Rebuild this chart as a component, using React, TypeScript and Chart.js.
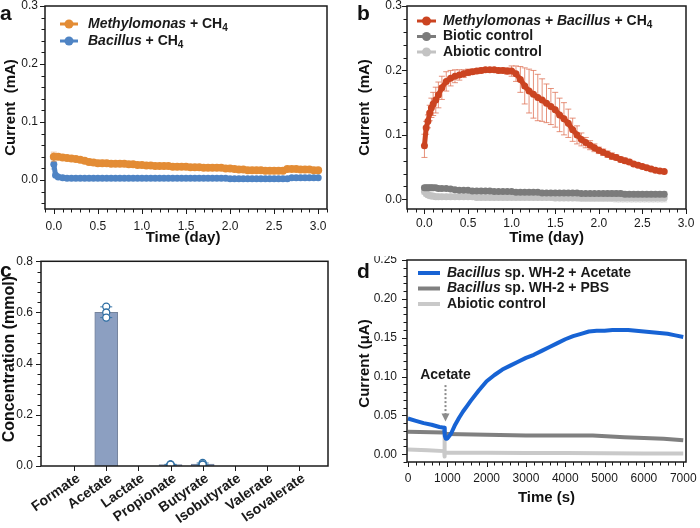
import React, { useEffect, useRef } from 'react';
import { Chart, registerables } from 'chart.js';

Chart.register(...registerables);

const FONT = '"Liberation Sans", Arial, Helvetica, sans-serif';
Chart.defaults.font.family = FONT;
Chart.defaults.color = '#1a1a1a';

// ---------------- a: single cultures fed with CH4 (mA vs day) ----------------
const aTime = [
  0.00, 0.05, 0.10, 0.15, 0.20, 0.25, 0.30, 0.35, 0.40, 0.45,
  0.50, 0.55, 0.60, 0.65, 0.70, 0.75, 0.80, 0.85, 0.90, 0.95,
  1.00, 1.05, 1.10, 1.15, 1.20, 1.25, 1.30, 1.35, 1.40, 1.45,
  1.50, 1.55, 1.60, 1.65, 1.70, 1.75, 1.80, 1.85, 1.90, 1.95,
  2.00, 2.05, 2.10, 2.15, 2.20, 2.25, 2.30, 2.35, 2.40, 2.45,
  2.50, 2.55, 2.60, 2.65, 2.70, 2.75, 2.80, 2.85, 2.90, 2.95,
  3.00,
];
const aMethylomonas = [
  0.040, 0.040, 0.039, 0.038, 0.037, 0.036, 0.035, 0.033, 0.031, 0.030,
  0.029, 0.029, 0.029, 0.028, 0.028, 0.028, 0.028, 0.027, 0.027, 0.026,
  0.026, 0.025, 0.025, 0.024, 0.024, 0.024, 0.024, 0.023, 0.023, 0.023,
  0.023, 0.022, 0.022, 0.022, 0.021, 0.021, 0.021, 0.021, 0.021, 0.020,
  0.020, 0.019, 0.018, 0.018, 0.017, 0.017, 0.017, 0.017, 0.016, 0.016,
  0.016, 0.016, 0.016, 0.019, 0.019, 0.019, 0.018, 0.018, 0.018, 0.017,
  0.017,
];
const aMethylomonasErr = [
  0.008, 0.004, 0.003, 0.003, 0.003, 0.003, 0.003, 0.004, 0.005, 0.005,
  0.005, 0.005, 0.004, 0.004, 0.004, 0.004, 0.004, 0.004, 0.003, 0.003,
  0.003, 0.003, 0.003, 0.003, 0.003, 0.003, 0.003, 0.003, 0.003, 0.003,
  0.003, 0.003, 0.003, 0.003, 0.002, 0.002, 0.002, 0.002, 0.002, 0.002,
  0.003, 0.004, 0.004, 0.004, 0.004, 0.004, 0.004, 0.004, 0.004, 0.004,
  0.004, 0.004, 0.004, 0.002, 0.002, 0.002, 0.002, 0.002, 0.002, 0.002,
  0.002,
];
const aBacillusTime = [
  0.00, 0.02, 0.05, 0.10, 0.15, 0.20, 0.25, 0.30, 0.35, 0.40,
  0.45, 0.50, 0.55, 0.60, 0.65, 0.70, 0.75, 0.80, 0.85, 0.90,
  0.95, 1.00, 1.05, 1.10, 1.15, 1.20, 1.25, 1.30, 1.35, 1.40,
  1.45, 1.50, 1.55, 1.60, 1.65, 1.70, 1.75, 1.80, 1.85, 1.90,
  1.95, 2.00, 2.05, 2.10, 2.15, 2.20, 2.25, 2.30, 2.35, 2.40,
  2.45, 2.50, 2.55, 2.60, 2.65, 2.70, 2.75, 2.80, 2.85, 2.90,
  2.95, 3.00,
];
const aBacillus = [
  0.027, 0.008, 0.005, 0.004, 0.003, 0.003, 0.003, 0.003, 0.003, 0.003,
  0.003, 0.003, 0.003, 0.003, 0.003, 0.003, 0.003, 0.003, 0.003, 0.003,
  0.003, 0.003, 0.003, 0.003, 0.003, 0.003, 0.003, 0.003, 0.003, 0.003,
  0.003, 0.003, 0.003, 0.003, 0.003, 0.003, 0.003, 0.003, 0.003, 0.003,
  0.003, 0.002, 0.002, 0.002, 0.002, 0.002, 0.002, 0.002, 0.002, 0.002,
  0.002, 0.002, 0.002, 0.002, 0.002, 0.004, 0.004, 0.004, 0.004, 0.004,
  0.004, 0.004,
];
const aBacillusErr = [
  0.008, 0.002, 0.0015, 0.0015, 0.0015, 0.0015, 0.0015, 0.0015, 0.0015, 0.0015,
  0.0015, 0.0015, 0.0015, 0.0015, 0.0015, 0.0015, 0.0015, 0.0015, 0.0015, 0.0015,
  0.0015, 0.0015, 0.0015, 0.0015, 0.0015, 0.0015, 0.0015, 0.0015, 0.0015, 0.0015,
  0.0015, 0.0015, 0.0015, 0.0015, 0.0015, 0.0015, 0.0015, 0.0015, 0.0015, 0.0015,
  0.0015, 0.0015, 0.0015, 0.0015, 0.0015, 0.0015, 0.0015, 0.0015, 0.0015, 0.0015,
  0.0015, 0.0015, 0.0015, 0.0015, 0.0015, 0.0015, 0.0015, 0.0015, 0.0015, 0.0015,
  0.0015, 0.0015,
];
const aXTicks = [0, 0.5, 1.0, 1.5, 2.0, 2.5, 3.0];
const aYTicks = [0, 0.1, 0.2, 0.3];

// ---------------- b: co-culture vs controls (mA vs day) ----------------
const bTime = [
  0.00, 0.02, 0.04, 0.06, 0.08, 0.10, 0.13, 0.16, 0.20, 0.25,
  0.30, 0.35, 0.40, 0.45, 0.50, 0.55, 0.60, 0.65, 0.70, 0.75,
  0.80, 0.85, 0.90, 0.95, 1.00, 1.05, 1.10, 1.15, 1.20, 1.25,
  1.30, 1.35, 1.40, 1.45, 1.50, 1.55, 1.60, 1.65, 1.70, 1.75,
  1.80, 1.85, 1.90, 1.95, 2.00, 2.05, 2.10, 2.15, 2.20, 2.25,
  2.30, 2.35, 2.40, 2.45, 2.50, 2.55, 2.60, 2.65, 2.70, 2.75,
];
const bCoculture = [
  0.083, 0.111, 0.121, 0.134, 0.142, 0.148, 0.154, 0.162, 0.173, 0.183,
  0.188, 0.191, 0.193, 0.195, 0.197, 0.198, 0.199, 0.200, 0.201, 0.201,
  0.201, 0.200, 0.200, 0.199, 0.199, 0.195, 0.186, 0.176, 0.168, 0.163,
  0.158, 0.154, 0.149, 0.144, 0.139, 0.131, 0.125, 0.118, 0.108, 0.100,
  0.093, 0.088, 0.084, 0.080, 0.076, 0.073, 0.070, 0.067, 0.065, 0.062,
  0.060, 0.058, 0.055, 0.053, 0.051, 0.049, 0.047, 0.045, 0.044, 0.043,
];
const bCocultureErr = [
  0.018, 0.010, 0.010, 0.012, 0.015, 0.018, 0.020, 0.020, 0.018, 0.015,
  0.012, 0.010, 0.008, 0.006, 0.005, 0.004, 0.004, 0.004, 0.003, 0.003,
  0.003, 0.004, 0.004, 0.005, 0.008, 0.012, 0.020, 0.028, 0.034, 0.037,
  0.036, 0.033, 0.030, 0.028, 0.027, 0.026, 0.025, 0.022, 0.018, 0.014,
  0.010, 0.008, 0.007, 0.006, 0.005, 0.005, 0.005, 0.005, 0.004, 0.004,
  0.004, 0.004, 0.003, 0.003, 0.003, 0.003, 0.003, 0.002, 0.002, 0.002,
];
const bBiotic = [
  0.018, 0.018, 0.018, 0.018, 0.018, 0.018, 0.018, 0.017, 0.017, 0.017,
  0.016, 0.015, 0.014, 0.014, 0.014, 0.013, 0.013, 0.013, 0.013, 0.013,
  0.012, 0.012, 0.012, 0.012, 0.012, 0.011, 0.011, 0.011, 0.011, 0.011,
  0.011, 0.010, 0.010, 0.010, 0.010, 0.010, 0.010, 0.010, 0.010, 0.010,
  0.009, 0.009, 0.009, 0.009, 0.009, 0.009, 0.009, 0.009, 0.009, 0.009,
  0.008, 0.008, 0.008, 0.008, 0.008, 0.008, 0.008, 0.008, 0.008, 0.008,
];
const bBioticErr = [
  0.003, 0.003, 0.003, 0.003, 0.003, 0.003, 0.003, 0.003, 0.003, 0.003,
  0.003, 0.003, 0.003, 0.003, 0.003, 0.003, 0.003, 0.003, 0.003, 0.003,
  0.003, 0.003, 0.003, 0.003, 0.003, 0.003, 0.003, 0.003, 0.003, 0.003,
  0.003, 0.003, 0.003, 0.003, 0.003, 0.003, 0.003, 0.003, 0.003, 0.003,
  0.003, 0.003, 0.003, 0.003, 0.003, 0.003, 0.004, 0.004, 0.004, 0.004,
  0.004, 0.004, 0.004, 0.004, 0.004, 0.004, 0.004, 0.004, 0.004, 0.004,
];
const bAbiotic = [
  0.012, 0.009, 0.007, 0.006, 0.005, 0.005, 0.004, 0.004, 0.004, 0.004,
  0.004, 0.004, 0.004, 0.004, 0.004, 0.004, 0.003, 0.003, 0.003, 0.003,
  0.003, 0.003, 0.003, 0.003, 0.003, 0.003, 0.003, 0.003, 0.003, 0.003,
  0.003, 0.003, 0.003, 0.003, 0.002, 0.002, 0.002, 0.002, 0.002, 0.002,
  0.002, 0.002, 0.002, 0.002, 0.002, 0.002, 0.002, 0.002, 0.002, 0.002,
  0.002, 0.002, 0.002, 0.002, 0.002, 0.002, 0.002, 0.002, 0.002, 0.002,
];
const bAbioticErr = [
  0.004, 0.004, 0.004, 0.004, 0.004, 0.004, 0.004, 0.004, 0.004, 0.004,
  0.004, 0.004, 0.004, 0.004, 0.004, 0.004, 0.004, 0.004, 0.004, 0.004,
  0.004, 0.004, 0.004, 0.004, 0.004, 0.004, 0.004, 0.004, 0.004, 0.004,
  0.004, 0.004, 0.004, 0.004, 0.004, 0.004, 0.004, 0.004, 0.004, 0.004,
  0.005, 0.005, 0.005, 0.005, 0.005, 0.005, 0.005, 0.005, 0.006, 0.006,
  0.006, 0.006, 0.006, 0.006, 0.006, 0.006, 0.006, 0.006, 0.006, 0.006,
];
const bXTicks = [0, 0.5, 1.0, 1.5, 2.0, 2.5, 3.0];
const bYTicks = [0, 0.1, 0.2, 0.3];

// ---------------- c: organic acids produced (mmol) ----------------
const cCategories = ['Formate', 'Acetate', 'Lactate', 'Propionate', 'Butyrate', 'Isobutyrate', 'Valerate', 'Isovalerate'];
const cMeans = [0, 0.601, 0, 0.0055, 0.0077, 0, 0, 0];
const cErrs = [0, 0.021, 0, 0.001, 0.004, 0, 0, 0];
const cReplicateIndex = [1, 1, 1, 3, 3, 3, 4, 4, 4];
const cReplicateValue = [0.623, 0.600, 0.580, 0.006, 0.005, 0.005, 0.012, 0.006, 0.005];
const cYTicks = [0, 0.2, 0.4, 0.6, 0.8];

// ---------------- d: Bacillus sp. WH-2 chronoamperometry (μA vs s) ----------------
const dAcetateTime = [
  0, 200, 400, 600, 800, 920, 935, 960, 1000, 1100,
  1200, 1300, 1400, 1500, 1600, 1800, 2000, 2200, 2400, 2600,
  2800, 3000, 3200, 3400, 3600, 3800, 4000, 4200, 4400, 4600,
  4800, 5000, 5200, 5400, 5600, 5800, 6000, 6200, 6400, 6600,
  6800, 7000,
];
const dAcetate = [
  0.046, 0.043, 0.040, 0.038, 0.035, 0.034, 0.024, 0.020, 0.020, 0.027,
  0.038, 0.047, 0.055, 0.062, 0.069, 0.082, 0.094, 0.102, 0.109, 0.114,
  0.119, 0.124, 0.128, 0.133, 0.138, 0.143, 0.148, 0.152, 0.155, 0.158,
  0.159, 0.159, 0.160, 0.160, 0.160, 0.159, 0.158, 0.157, 0.156, 0.155,
  0.153, 0.151,
];
const dPbsTime = [0, 900, 940, 1000, 2000, 3000, 4000, 4700, 5500, 6000, 6500, 7000];
const dPbs = [0.029, 0.028, 0.027, 0.026, 0.025, 0.024, 0.024, 0.024, 0.022, 0.021, 0.020, 0.018];
const dAbioticTime = [0, 500, 920, 925, 930, 940, 1000, 2000, 3000, 4000, 5000, 6000, 7000];
const dAbiotic = [0.006, 0.005, 0.004, 0.024, -0.003, 0.002, 0.002, 0.002, 0.0015, 0.0015, 0.0012, 0.001, 0.001];
const dXTicks = [0, 1000, 2000, 3000, 4000, 5000, 6000, 7000];
const dYTicks = [0, 0.05, 0.1, 0.15, 0.2, 0.25];
const dAcetateAddedAt = 930;

// ---------------- colours ----------------
const ORANGE = '#e38c35';
const A_BLUE = '#4f84c4';
const RED = '#cb4421';
const GRAY = '#7b7b7b';
const LGRAY = '#c3c3c3';
const D_BLUE = '#1763d4';
const D_GRAY = '#808080';
const D_LGRAY = '#c9c9c9';
const BAR = '#8c9fc1';
const INK = '#1a1a1a';

const pts = (xs: number[], ys: number[]) => xs.map((x, i) => ({ x, y: ys[i] }));

// ---------------- plugins ----------------
function drawErrors(chart: any, index: number, after: boolean) {
  const ds: any = chart.data.datasets[index];
  if (!ds.errors || !!ds.errorsAfter !== after) return;
  const meta = chart.getDatasetMeta(index);
  const yScale = chart.scales[meta.yAxisID];
  const ctx = chart.ctx;
  const cap = ds.errorCap ?? 3;
  ctx.save();
  ctx.strokeStyle = ds.errorColor;
  ctx.lineWidth = ds.errorWidth ?? 1;
  meta.data.forEach((el: any, i: number) => {
    const e = ds.errors[i];
    if (!e) return;
    const v = ds.data[i].y;
    const x = el.x;
    const y1 = yScale.getPixelForValue(v + e);
    const y2 = yScale.getPixelForValue(v - e);
    ctx.beginPath();
    ctx.moveTo(x, y1);
    ctx.lineTo(x, y2);
    ctx.moveTo(x - cap, y1);
    ctx.lineTo(x + cap, y1);
    ctx.moveTo(x - cap, y2);
    ctx.lineTo(x + cap, y2);
    ctx.stroke();
  });
  ctx.restore();
}

const errorBars = {
  id: 'errorBars',
  beforeDatasetDraw(chart: any, args: any) { drawErrors(chart, args.index, false); },
  afterDatasetDraw(chart: any, args: any) { drawErrors(chart, args.index, true); },
};

// Axis box, outward tick marks, tick labels and axis titles for one panel.
// Label rows are placed relative to the plot box.
function axisDecor(spec: any) {
  return {
    id: 'axisDecor',
    afterDraw(chart: any) {
      const { ctx, chartArea: ca, scales } = chart;
      const xs = scales.x;
      const ys = scales.y;
      const midX = (ca.left + ca.right) / 2;
      const midY = (ca.top + ca.bottom) / 2;
      ctx.save();
      ctx.strokeStyle = INK;
      ctx.lineWidth = 1.5;
      ctx.strokeRect(ca.left, ca.top, ca.right - ca.left, ca.bottom - ca.top);
      ctx.lineWidth = 1;
      const run = (scale: any, m: any, horizontal: boolean) => {
        const lo = m.from ?? scale.min;
        const hi = m.to ?? scale.max;
        const k0 = Math.ceil(lo / m.minor - 1e-6);
        const k1 = Math.floor(hi / m.minor + 1e-6);
        for (let k = k0; k <= k1; k++) {
          const v = k * m.minor;
          const r = v / m.major;
          const isMajor = Math.abs(r - Math.round(r)) < 1e-6;
          const len = isMajor ? 5 : 3.5;
          const p = Math.round(scale.getPixelForValue(v)) + 0.5;
          ctx.beginPath();
          if (horizontal) {
            ctx.moveTo(p, ca.bottom);
            ctx.lineTo(p, ca.bottom + len);
          } else {
            ctx.moveTo(ca.left, p);
            ctx.lineTo(ca.left - len, p);
          }
          ctx.stroke();
        }
      };
      run(xs, spec.xMarks, true);
      run(ys, spec.yMarks, false);

      ctx.fillStyle = INK;
      spec.xTicks.forEach((v: number, i: number) => {
        const px = xs.getPixelForValue(v);
        if (spec.xRotate) {
          ctx.save();
          ctx.font = spec.xFont;
          ctx.translate(px + spec.xAnchorDx, ca.bottom + spec.xLabelGap);
          ctx.rotate((-spec.xRotate * Math.PI) / 180);
          ctx.textAlign = 'right';
          ctx.textBaseline = 'middle';
          ctx.fillText(spec.xLabels[i], 0, 0);
          ctx.restore();
        } else {
          ctx.font = `12px ${FONT}`;
          ctx.textAlign = 'center';
          ctx.textBaseline = 'middle';
          ctx.fillText(spec.xLabels[i], px, ca.bottom + spec.xLabelGap);
        }
      });
      ctx.font = `12px ${FONT}`;
      ctx.textAlign = 'right';
      ctx.textBaseline = 'middle';
      spec.yTicks.forEach((v: number, i: number) => {
        ctx.fillText(spec.yLabels[i], ca.left - spec.yLabelGap, ys.getPixelForValue(v));
      });
      ctx.fillStyle = '#111';
      if (spec.xTitle) {
        ctx.font = `bold 15px ${FONT}`;
        ctx.textAlign = 'center';
        ctx.textBaseline = 'middle';
        ctx.fillText(spec.xTitle, midX + (spec.xTitleDx || 0), ca.bottom + spec.xTitleGap);
      }
      ctx.save();
      ctx.font = `bold ${spec.yTitleSize || 15}px ${FONT}`;
      ctx.translate(ca.left - spec.yTitleGap, midY + (spec.yTitleDy || 0));
      ctx.rotate(-Math.PI / 2);
      ctx.textAlign = 'center';
      ctx.textBaseline = 'middle';
      ctx.fillText(spec.yTitle, 0, 0);
      ctx.restore();
      ctx.restore();
    },
  };
}

// legend with mixed italic/upright runs and subscripts
function richLegend(spec: any) {
  return {
    id: 'richLegend',
    afterDraw(chart: any) {
      const ctx = chart.ctx;
      ctx.save();
      spec.items.forEach((it: any, i: number) => {
        const y = spec.y + i * spec.dy;
        ctx.strokeStyle = it.color;
        ctx.lineWidth = it.lineWidth;
        ctx.beginPath();
        ctx.moveTo(spec.x, y);
        ctx.lineTo(spec.x + spec.len, y);
        ctx.stroke();
        if (it.marker) {
          ctx.fillStyle = it.color;
          ctx.beginPath();
          ctx.arc(spec.x + spec.len / 2, y, 4.5, 0, Math.PI * 2);
          ctx.fill();
        }
        let tx = spec.x + spec.len + spec.gap;
        ctx.fillStyle = INK;
        ctx.textBaseline = 'middle';
        ctx.textAlign = 'left';
        it.parts.forEach((p: any) => {
          const size = p.sub ? 10 : 14;
          ctx.font = `${p.italic ? 'italic ' : ''}bold ${size}px ${FONT}`;
          ctx.fillText(p.t, tx, y + (p.sub ? 4 : 0));
          tx += ctx.measureText(p.t).width;
        });
      });
      ctx.restore();
    },
  };
}

function panelTag(text: string, x: number, y: number) {
  return {
    id: 'panelTag',
    afterDraw(chart: any) {
      const ctx = chart.ctx;
      ctx.save();
      ctx.font = `bold 21px ${FONT}`;
      ctx.fillStyle = '#111';
      ctx.textBaseline = 'alphabetic';
      ctx.textAlign = 'left';
      ctx.fillText(text, x, y);
      ctx.restore();
    },
  };
}

function noteArrow(o: any) {
  return {
    id: 'noteArrow',
    afterDatasetsDraw(chart: any) {
      const { ctx, scales: { x, y } } = chart;
      const px = Math.round(x.getPixelForValue(o.at)) + 0.5;
      ctx.save();
      ctx.font = `bold 14px ${FONT}`;
      ctx.fillStyle = INK;
      ctx.textAlign = 'center';
      ctx.textBaseline = 'middle';
      ctx.fillText(o.text, px, y.getPixelForValue(o.textY));
      const y1 = y.getPixelForValue(o.from);
      const y2 = y.getPixelForValue(o.to);
      ctx.strokeStyle = '#8c8c8c';
      ctx.lineWidth = 2;
      ctx.setLineDash([2, 2]);
      ctx.beginPath();
      ctx.moveTo(px, y1);
      ctx.lineTo(px, y2 - 7);
      ctx.stroke();
      ctx.setLineDash([]);
      ctx.fillStyle = '#8c8c8c';
      ctx.beginPath();
      ctx.moveTo(px - 4, y2 - 8);
      ctx.lineTo(px + 4, y2 - 8);
      ctx.lineTo(px, y2);
      ctx.closePath();
      ctx.fill();
      ctx.restore();
    },
  };
}

// scales only map values to pixels; all axis drawing is done by axisDecor
const hiddenAxis = (min: number, max: number) => ({ type: 'linear', min, max, display: false, offset: false });

const common = {
  animation: false,
  responsive: false,
  maintainAspectRatio: false,
  events: [],
};

const noChrome = { legend: { display: false }, tooltip: { enabled: false } };

function lineSet(label: string, xs: number[], ys: number[], errs: number[], color: string, errColor: string, radius: number, width: number) {
  return {
    label,
    data: pts(xs, ys),
    errors: errs,
    errorColor: errColor,
    errorCap: 3,
    borderColor: color,
    backgroundColor: color,
    borderWidth: width,
    pointRadius: radius,
    pointBorderWidth: 0,
    pointBackgroundColor: color,
    showLine: true,
    tension: 0,
    borderJoinStyle: 'round',
    borderCapStyle: 'round',
  };
}

// ---------------- chart configs ----------------
const configA = () => ({
  type: 'line',
  data: {
    datasets: [
      lineSet('Methylomonas + CH4', aTime, aMethylomonas, aMethylomonasErr, ORANGE, 'rgba(229,150,80,0.55)', 4, 6),
      lineSet('Bacillus + CH4', aBacillusTime, aBacillus, aBacillusErr, A_BLUE, 'rgba(79,132,196,0.6)', 3.5, 5),
    ],
  },
  options: {
    ...common,
    layout: { padding: { left: 45, top: 6, right: 23, bottom: 47 } },
    plugins: noChrome,
    scales: { x: hiddenAxis(-0.1, 3.1), y: hiddenAxis(-0.05, 0.3) },
  },
  plugins: [
    errorBars,
    axisDecor({
      xMarks: { minor: 0.1, major: 0.5 }, yMarks: { minor: 0.02, major: 0.1 },
      xTicks: aXTicks, xLabels: aXTicks.map((v) => v.toFixed(1)), xLabelGap: 18,
      xTitle: 'Time (day)', xTitleGap: 29, xTitleDx: -3,
      yTicks: aYTicks, yLabels: aYTicks.map((v) => v.toFixed(1)), yLabelGap: 7,
      yTitle: 'Current  (mA)', yTitleGap: 34,
    }),
    richLegend({
      x: 60, y: 24, dy: 17, len: 18, gap: 10,
      items: [
        { color: ORANGE, lineWidth: 3, marker: true, parts: [{ t: 'Methylomonas', italic: true }, { t: ' + CH' }, { t: '4', sub: true }] },
        { color: A_BLUE, lineWidth: 3, marker: true, parts: [{ t: 'Bacillus', italic: true }, { t: ' + CH' }, { t: '4', sub: true }] },
      ],
    }),
    panelTag('a', 0, 20),
  ],
});

const configB = () => ({
  type: 'line',
  data: {
    datasets: [
      lineSet('Methylomonas + Bacillus + CH4', bTime, bCoculture, bCocultureErr, RED, 'rgba(222,110,80,0.75)', 3.5, 5),
      lineSet('Biotic control', bTime, bBiotic, bBioticErr, GRAY, 'rgba(150,150,150,0.6)', 3.5, 5),
      lineSet('Abiotic control', bTime, bAbiotic, bAbioticErr, LGRAY, 'rgba(205,205,205,0.7)', 3.5, 5),
    ],
  },
  options: {
    ...common,
    layout: { padding: { left: 57, top: 6, right: 14, bottom: 47 } },
    plugins: noChrome,
    scales: { x: hiddenAxis(-0.2, 3.0), y: hiddenAxis(-0.015, 0.3) },
  },
  plugins: [
    errorBars,
    axisDecor({
      xMarks: { minor: 0.1, major: 0.5 }, yMarks: { minor: 0.02, major: 0.1 },
      xTicks: bXTicks, xLabels: bXTicks.map((v) => v.toFixed(1)), xLabelGap: 15,
      xTitle: 'Time (day)', xTitleGap: 29,
      yTicks: bYTicks, yLabels: bYTicks.map((v) => v.toFixed(1)), yLabelGap: 5,
      yTitle: 'Current  (mA)', yTitleGap: 42.5,
    }),
    richLegend({
      x: 67, y: 21, dy: 15.5, len: 19, gap: 7,
      items: [
        { color: RED, lineWidth: 3, marker: true, parts: [{ t: 'Methylomonas', italic: true }, { t: ' + ' }, { t: 'Bacillus', italic: true }, { t: ' + CH' }, { t: '4', sub: true }] },
        { color: GRAY, lineWidth: 3, marker: true, parts: [{ t: 'Biotic control' }] },
        { color: LGRAY, lineWidth: 3, marker: true, parts: [{ t: 'Abiotic control' }] },
      ],
    }),
    panelTag('b', 7, 20),
  ],
});

const configC = () => ({
  type: 'bar',
  data: {
    datasets: [
      {
        type: 'line',
        label: 'replicates',
        data: pts(cReplicateIndex, cReplicateValue),
        showLine: false,
        pointRadius: 3.5,
        pointBorderWidth: 1.3,
        pointBackgroundColor: '#ffffff',
        pointBorderColor: '#2e6ea3',
        order: 0,
      },
      {
        type: 'bar',
        label: 'mean',
        data: pts(cCategories.map((_, i) => i), cMeans),
        errors: cErrs,
        errorsAfter: true,
        errorColor: '#3a78aa',
        errorCap: 6,
        backgroundColor: BAR,
        borderColor: '#76849c',
        borderWidth: 1,
        borderSkipped: 'bottom',
        barThickness: 23,
        order: 1,
      },
    ],
  },
  options: {
    ...common,
    layout: { padding: { left: 41, top: 5, right: 22, bottom: 62 } },
    plugins: noChrome,
    scales: { x: hiddenAxis(-1.03, 7.9), y: hiddenAxis(0, 0.8) },
  },
  plugins: [
    errorBars,
    axisDecor({
      xMarks: { minor: 1, major: 1, from: 0, to: 7 }, yMarks: { minor: 0.04, major: 0.2 },
      xTicks: cCategories.map((_, i) => i), xLabels: cCategories, xLabelGap: 11,
      xRotate: 35, xAnchorDx: 4.5, xFont: `bold 14px ${FONT}`,
      yTicks: cYTicks, yLabels: cYTicks.map((v) => v.toFixed(1)), yLabelGap: 8,
      yTitle: 'Concentration (mmol)', yTitleGap: 31.5, yTitleDy: -4.5, yTitleSize: 16,
    }),
    panelTag('c', 0, 21),
  ],
});

function traceSet(label: string, xs: number[], ys: number[], color: string) {
  return {
    label,
    data: pts(xs, ys),
    borderColor: color,
    backgroundColor: color,
    borderWidth: 4,
    pointRadius: 0,
    tension: 0,
    borderJoinStyle: 'round',
  };
}

const configD = () => ({
  type: 'line',
  data: {
    datasets: [
      traceSet('Bacillus sp. WH-2 + Acetate', dAcetateTime, dAcetate, D_BLUE),
      traceSet('Bacillus sp. WH-2 + PBS', dPbsTime, dPbs, D_GRAY),
      traceSet('Abiotic control', dAbioticTime, dAbiotic, D_LGRAY),
    ],
  },
  options: {
    ...common,
    layout: { padding: { left: 57, top: 4, right: 14, bottom: 66 } },
    plugins: noChrome,
    scales: { x: hiddenAxis(-25, 7070), y: hiddenAxis(-0.01, 0.25) },
  },
  plugins: [
    axisDecor({
      xMarks: { minor: 200, major: 1000 }, yMarks: { minor: 0.01, major: 0.05 },
      xTicks: dXTicks, xLabels: dXTicks.map((v) => String(v)), xLabelGap: 17,
      xTitle: 'Time (s)', xTitleGap: 36,
      yTicks: dYTicks, yLabels: dYTicks.map((v) => v.toFixed(2)), yLabelGap: 10,
      yTitle: 'Current (μA)', yTitleGap: 42.5, yTitleDy: 2.5,
    }),
    richLegend({
      x: 68, y: 17, dy: 15.5, len: 22, gap: 7,
      items: [
        { color: D_BLUE, lineWidth: 4, marker: false, parts: [{ t: 'Bacillus', italic: true }, { t: ' sp. WH-2 + Acetate' }] },
        { color: D_GRAY, lineWidth: 4, marker: false, parts: [{ t: 'Bacillus', italic: true }, { t: ' sp. WH-2 + PBS' }] },
        { color: D_LGRAY, lineWidth: 4, marker: false, parts: [{ t: 'Abiotic control' }] },
      ],
    }),
    panelTag('d', 7, 22),
    noteArrow({ text: 'Acetate', at: dAcetateAddedAt, textY: 0.102, from: 0.089, to: 0.042 }),
  ],
});

function Panel({ left, top, width, height, make }: { left: number; top: number; width: number; height: number; make: () => any }) {
  const ref = useRef<HTMLCanvasElement>(null);
  useEffect(() => {
    const chart = new Chart(ref.current as HTMLCanvasElement, make());
    return () => chart.destroy();
  }, [make]);
  return (
    <div style={{ position: 'absolute', left, top, width, height, overflow: 'hidden' }}>
      <canvas ref={ref} width={width} height={height} style={{ display: 'block', width, height }} />
    </div>
  );
}

export default function App() {
  return (
    <div style={{ position: 'absolute', left: 0, top: 0, width: 700, height: 528, background: '#ffffff', overflow: 'hidden' }}>
      <Panel left={0} top={0} width={350} height={256} make={configA} />
      <Panel left={350} top={0} width={350} height={256} make={configB} />
      <Panel left={0} top={256} width={350} height={272} make={configC} />
      <Panel left={350} top={256} width={350} height={272} make={configD} />
    </div>
  );
}
